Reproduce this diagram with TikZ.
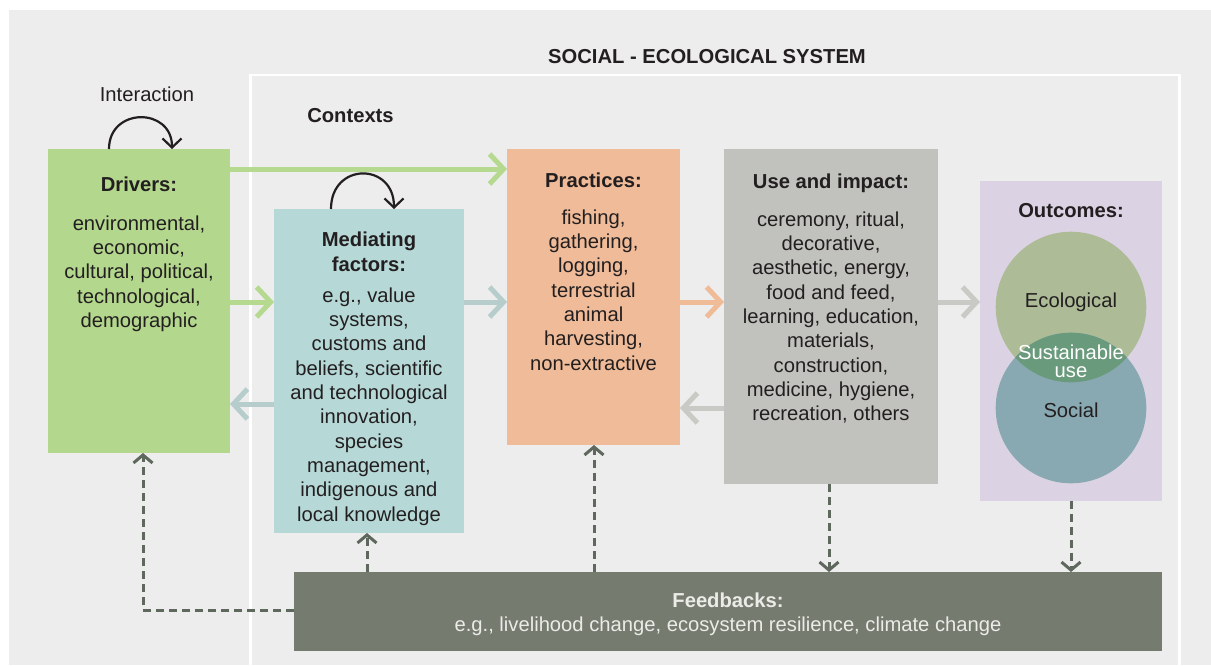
\documentclass[tikz,border=0pt]{standalone}
\usepackage{fontspec}
\setmainfont{Liberation Sans}
\usetikzlibrary{arrows.meta}
\definecolor{bgc}{HTML}{EDEDED}
\definecolor{ink}{HTML}{231F20}
\definecolor{drvc}{HTML}{B3D78D}
\definecolor{medc}{HTML}{B6D9D8}
\definecolor{prac}{HTML}{EFBB98}
\definecolor{usec}{HTML}{C1C1BD}
\definecolor{outc}{HTML}{DBD3E3}
\definecolor{fbc}{HTML}{767B70}
\definecolor{ecoc}{HTML}{ADBC97}
\definecolor{socc}{HTML}{88A9B2}
\definecolor{susc}{HTML}{6A9A7C}
\definecolor{agrn}{HTML}{B5D98F}
\definecolor{ateal}{HTML}{B7CDCC}
\definecolor{aora}{HTML}{F0BC98}
\definecolor{agry}{HTML}{C9C9C5}
\definecolor{dshc}{HTML}{5F685D}
\definecolor{fbtxt}{HTML}{EBEBE7}
\tikzset{
  box/.style={draw=none, inner sep=0pt, outer sep=0pt, anchor=north west},
  txt/.style={font=\fontsize{20.2}{24.3}\selectfont, align=center, inner sep=0pt, text=ink},
  ttl/.style={txt, font=\fontsize{20.2}{24.3}\selectfont\bfseries},
  fat/.style={line width=5pt, -{Straight Barb[length=14pt,width=30pt]}},
  dsh/.style={draw=dshc, line width=3pt, dash pattern=on 8pt off 5pt, -{Straight Barb[length=8pt,width=19pt]}},
  loop/.style={draw=ink, line width=2.2pt, -{Straight Barb[length=9pt,width=19pt]}},
}
\begin{document}
\begin{tikzpicture}[x=1pt,y=-1pt]
\useasboundingbox (0,0) rectangle (1211,665);
\fill[white] (0,0) rectangle (1211,665);
\fill[bgc] (9,10) rectangle (1211,665);
\draw[white, line width=2.5pt] (250.5,665) -- (250.5,75) -- (1179.5,75) -- (1179.5,665);

\node[ttl, anchor=base] (ses) at (707,63) {SOCIAL - ECOLOGICAL SYSTEM};
\node[txt, anchor=base] (inter) at (147,101) {Interaction};
\node[ttl, anchor=base] (ctx) at (350.5,122) {Contexts};

% boxes
\node[box, fill=drvc, minimum width=182pt, minimum height=304pt] (drv) at (48,149) {};
\node[box, fill=medc, minimum width=190pt, minimum height=324pt] (med) at (274,209) {};
\node[box, fill=prac, minimum width=173pt, minimum height=296pt] (pra) at (507,149) {};
\node[box, fill=usec, minimum width=214pt, minimum height=335pt] (use) at (724,149) {};
\node[box, fill=outc, minimum width=182pt, minimum height=319.5pt] (out) at (980,181) {};
\node[box, fill=fbc, minimum width=868pt, minimum height=79pt] (fb) at (294,572) {};

% circles
\node[circle, fill=ecoc, inner sep=0pt, minimum size=150.6pt] (eco) at (1071,307) {};
\node[circle, fill=socc, inner sep=0pt, minimum size=150.6pt] (soc) at (1071,408) {};
\begin{scope}
  \clip (1071,307) circle[radius=75.3pt];
  \fill[susc] (1071,408) circle[radius=75.3pt];
\end{scope}

% texts
\node[ttl, anchor=north] (drvt) at (139,177) {Drivers:};
\node[txt, anchor=north] (drvb) at (139,215.5) {environmental,\\ economic,\\ cultural, political,\\ technological,\\ demographic};
\node[ttl, anchor=north] (medt) at (369,232) {Mediating\\ factors:};
\node[txt, anchor=north] (medb) at (369,287.5) {e.g., value\\ systems,\\ customs and\\ beliefs, scientific\\ and technological\\ innovation,\\ species\\ management,\\ indigenous and\\ local knowledge};
\node[ttl, anchor=north] (prat) at (593.5,173) {Practices:};
\node[txt, anchor=north] (prab) at (593.5,209.5) {fishing,\\ gathering,\\ logging,\\ terrestrial\\ animal\\ harvesting,\\ non-extractive};
\node[ttl, anchor=north] (uset) at (831,174) {Use and impact:};
\node[txt, anchor=north] (useb) at (831,211.5) {ceremony, ritual,\\ decorative,\\ aesthetic, energy,\\ food and feed,\\ learning, education,\\ materials,\\ construction,\\ medicine, hygiene,\\ recreation, others};
\node[ttl, anchor=base] (outt) at (1071,217) {Outcomes:};
\node[txt, anchor=base] (ecot) at (1071,307) {Ecological};
\node[txt, anchor=base, text=white] (sust) at (1071,359) {Sustainable};
\node[txt, anchor=base, text=white] (usel) at (1071,377) {use};
\node[txt, anchor=base] (soct) at (1071,417) {Social};
\node[ttl, anchor=base, text=fbtxt] (fbt) at (728,607) {Feedbacks:};
\node[txt, anchor=base, text=fbtxt] (fbb) at (728,631) {e.g., livelihood change, ecosystem resilience, climate change};

% interaction loops
\draw[loop] (109,149) .. controls (109,107) and (172,107) .. (172,149);
\draw[loop] (331,209) .. controls (331,162) and (394,162) .. (394,209);

% thick arrows
\draw[fat, agrn] (drv.east |- 0,169) -- (pra.west |- 0,169);
\draw[fat, agrn] (drv.east |- 0,302) -- (med.west |- 0,302);
\draw[fat, ateal] (med.east |- 0,302) -- (pra.west |- 0,302);
\draw[fat, ateal] (med.west |- 0,404) -- (drv.east |- 0,404);
\draw[fat, aora] (pra.east |- 0,302) -- (use.west |- 0,302);
\draw[fat, agry] (use.west |- 0,408) -- (pra.east |- 0,408);
\draw[fat, agry] (use.east |- 0,302) -- (out.west |- 0,302);

% dashed feedback arrows
\coordinate (corner) at (143,610);
\draw[dsh] (fb.west |- corner) -- (corner) -- (drv.south -| corner);
\draw[dsh] (fb.north -| 367,0) -- (med.south -| 367,0);
\draw[dsh] (fb.north -| 594,0) -- (pra.south -| 594,0);
\draw[dsh] (use.south -| 829,0) -- (fb.north -| 829,0);
\draw[dsh] (out.south -| 1071,0) -- (fb.north -| 1071,0);
\end{tikzpicture}
\end{document}
